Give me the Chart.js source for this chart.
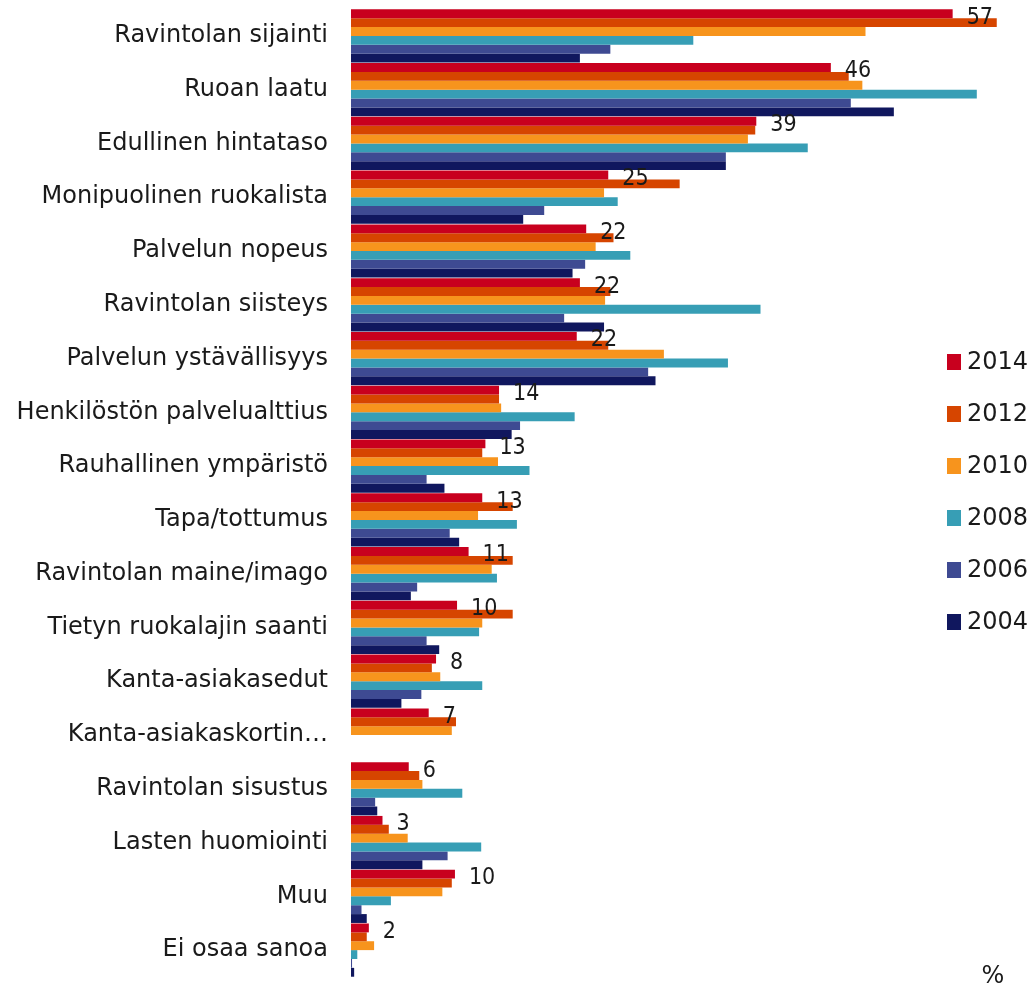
<!DOCTYPE html>
<html>
<head>
<meta charset="utf-8">
<script src="https://cdn.jsdelivr.net/npm/chart.js@4"></script>
<style>
  html, body { margin: 0; padding: 0; background: #fff; }
  #wrap { position: relative; width: 1032px; height: 991px; }
</style>
</head>
<body>
<div id="wrap"><canvas id="restaurantChart"></canvas></div>
<script>
// Categories (top to bottom)
const categories = [
    "Ravintolan sijainti", "Ruoan laatu", "Edullinen hintataso", "Monipuolinen ruokalista",
    "Palvelun nopeus", "Ravintolan siisteys", "Palvelun ystävällisyys", "Henkilöstön palvelualttius",
    "Rauhallinen ympäristö", "Tapa/tottumus", "Ravintolan maine/imago", "Tietyn ruokalajin saanti",
    "Kanta-asiakasedut", "Kanta-asiakaskortin…", "Ravintolan sisustus", "Lasten huomiointi",
    "Muu", "Ei osaa sanoa"
];

// Series values (%)
const values2014 = [57.3, 45.7, 38.6, 24.5, 22.4, 21.8, 21.5, 14.1, 12.8, 12.5, 11.2, 10.1, 8.1, 7.4, 5.5, 3.0, 9.9, 1.7];
const values2012 = [61.5, 47.4, 38.5, 31.3, 25.0, 24.7, 24.5, 14.1, 12.5, 15.4, 15.4, 15.4, 7.7, 10.0, 6.5, 3.6, 9.6, 1.5];
const values2010 = [49.0, 48.7, 37.8, 24.1, 23.3, 24.2, 29.8, 14.3, 14.0, 12.1, 13.4, 12.5, 8.5, 9.6, 6.8, 5.4, 8.7, 2.2];
const values2008 = [32.6, 59.6, 43.5, 25.4, 26.6, 39.0, 35.9, 21.3, 17.0, 15.8, 13.9, 12.2, 12.5, null, 10.6, 12.4, 3.8, 0.6];
const values2006 = [24.7, 47.6, 35.7, 18.4, 22.3, 20.3, 28.3, 16.1, 7.2, 9.4, 6.3, 7.2, 6.7, null, 2.3, 9.2, 1.0, 0.1];
const values2004 = [21.8, 51.7, 35.7, 16.4, 21.1, 24.1, 29.0, 15.3, 8.9, 10.3, 5.7, 8.4, 4.8, null, 2.5, 6.8, 1.5, 0.3];

const seriesLabels = ["2014", "2012", "2010", "2008", "2006", "2004"];
const seriesColors = ["#c8001e", "#d64500", "#f7941d", "#379eb5", "#3e4a92", "#10175e"];

// Draws the 2014 value next to its bar
const valueLabels = {
    id: "valueLabels",
    afterDatasetsDraw(chart) {
        const ctx = chart.ctx;
        const meta = chart.getDatasetMeta(0);
        ctx.save();
        ctx.font = "23px 'Liberation Sans Narrow', 'DejaVu Sans Condensed', sans-serif";
        ctx.fillStyle = "#1a1a1a";
        ctx.textAlign = "left";
        ctx.textBaseline = "middle";
        meta.data.forEach(function (bar, i) {
            ctx.fillText(Math.round(values2014[i]), bar.x + 14, bar.y + 4);
        });
        ctx.restore();
    }
};

// Legend on the right and the "%" unit
const sideLegend = {
    id: "sideLegend",
    afterDraw(chart) {
        const ctx = chart.ctx;
        ctx.save();
        ctx.font = "24px 'DejaVu Sans', sans-serif";
        ctx.textAlign = "left";
        ctx.textBaseline = "middle";
        chart.data.datasets.forEach(function (ds, i) {
            const y = 362 + i * 52;
            ctx.fillStyle = ds.backgroundColor;
            ctx.fillRect(947, y - 8, 14, 16);
            ctx.fillStyle = "#1a1a1a";
            ctx.fillText(ds.label, 967, y + 1);
        });
        ctx.textAlign = "center";
        ctx.fillText("%", 993, 977);
        ctx.restore();
    }
};

const datasets = [values2014, values2012, values2010, values2008, values2006, values2004].map(function (vals, i) {
    return {
        label: seriesLabels[i],
        data: vals,
        backgroundColor: seriesColors[i],
        categoryPercentage: 0.99,
        barPercentage: 1.0
    };
});

const ctx = document.getElementById("restaurantChart").getContext("2d");
new Chart(ctx, {
    type: "bar",
    data: { labels: categories, datasets: datasets },
    plugins: [valueLabels, sideLegend],
    options: {
        indexAxis: "y",
        responsive: true,
        maintainAspectRatio: false,
        animation: false,
        layout: { padding: { top: 9, bottom: 14, left: 0, right: 9 } },
        plugins: {
            legend: { display: false },
            tooltip: { enabled: false }
        },
        scales: {
            x: {
                display: false,
                min: 0,
                max: 64
            },
            y: {
                grid: { display: false, drawTicks: false },
                border: { display: false },
                ticks: {
                    padding: 23,
                    color: "#1a1a1a",
                    font: { family: "'DejaVu Sans', sans-serif", size: 24 }
                },
                afterFit: function (scale) {
                    scale.width = 351;
                    scale.paddingTop = 0;
                    scale.paddingBottom = 0;
                }
            }
        }
    }
});
</script>
</body>
</html>
